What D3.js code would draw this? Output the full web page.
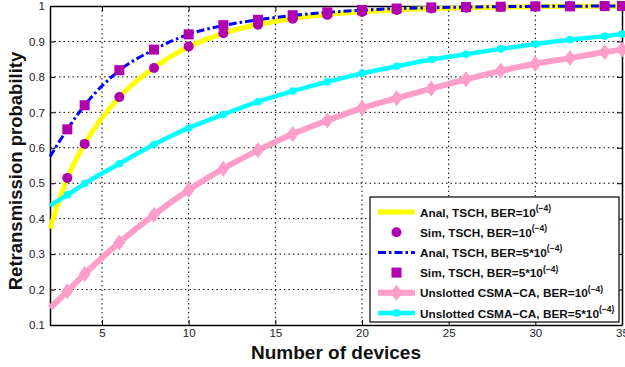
<!DOCTYPE html>
<html>
<head>
<meta charset="utf-8">
<script src="https://cdn.jsdelivr.net/npm/d3@7"></script>
<style>
  html, body { margin: 0; padding: 0; background: #fff; }
  svg { display: block; font-family: "Liberation Sans", Arial, sans-serif; }
</style>
</head>
<body>
<svg id="chart" width="625" height="367"></svg>
<script>
// Number of devices where the analytical curves are evaluated
const lineX = [2, 3, 4, 6, 8, 10, 12, 14, 16, 18, 20, 22, 24, 26, 28, 30, 32, 34, 35];
// Number of devices where simulation / marker points are shown
const markX = [3, 4, 6, 8, 10, 12, 14, 16, 18, 20, 22, 24, 26, 28, 30, 32, 34, 35];

const analTsch1 = [0.372, 0.515, 0.611, 0.743, 0.826, 0.885, 0.923, 0.948, 0.965, 0.976, 0.984, 0.989, 0.993, 0.995, 0.997, 0.998, 0.999, 0.999, 0.999];
const simTsch1 = [0.515, 0.611, 0.743, 0.825, 0.886, 0.923, 0.947, 0.964, 0.975, 0.983, 0.989, 0.993, 0.995, 0.997, 0.998, 0.999, 0.999, 0.999];
const analTsch5 = [0.575, 0.652, 0.720, 0.818, 0.877, 0.920, 0.945, 0.961, 0.973, 0.982, 0.988, 0.993, 0.995, 0.997, 0.998, 0.999, 0.999, 1.000, 1.000];
const simTsch5 = [0.652, 0.720, 0.819, 0.877, 0.920, 0.946, 0.961, 0.974, 0.982, 0.989, 0.993, 0.996, 0.997, 0.998, 0.999, 0.999, 1.000, 1.000];
const csma1 = [0.148, 0.195, 0.244, 0.333, 0.411, 0.481, 0.541, 0.593, 0.639, 0.677, 0.712, 0.740, 0.767, 0.793, 0.817, 0.837, 0.853, 0.870, 0.877];
const csma5 = [0.437, 0.467, 0.499, 0.555, 0.609, 0.656, 0.694, 0.730, 0.760, 0.786, 0.810, 0.830, 0.849, 0.864, 0.879, 0.893, 0.905, 0.915, 0.921];

const xTicks = [5, 10, 15, 20, 25, 30, 35];
const yTicks = [0.1, 0.2, 0.3, 0.4, 0.5, 0.6, 0.7, 0.8, 0.9, 1];

const legendLabels = [
  ["Anal, TSCH, BER=10", "(\u22124)"],
  ["Sim, TSCH, BER=10", "(\u22124)"],
  ["Anal, TSCH, BER=5*10", "(\u22124)"],
  ["Sim, TSCH, BER=5*10", "(\u22124)"],
  ["Unslotted CSMA\u2212CA, BER=10", "(\u22124)"],
  ["Unslotted CSMA\u2212CA, BER=5*10", "(\u22124)"]
];

const C = {
  yellow: "#ffff00",
  purple: "#b000b0",
  blue: "#0000ff",
  pink: "#ff9ec8",
  cyan: "#00ffff"
};

const L = 50, R = 622, T = 6, B = 325;
const svg = d3.select("#chart");
const x = d3.scaleLinear().domain([2, 35]).range([L, R]);
const y = d3.scaleLinear().domain([0.1, 1]).range([B, T]);

// dotted grid
const grid = svg.append("g").attr("stroke", "#000").attr("stroke-width", 1)
  .attr("stroke-dasharray", "1.5,3").attr("fill", "none");
xTicks.filter(t => t < 35).forEach(t => {
  grid.append("line").attr("x1", x(t)).attr("x2", x(t)).attr("y1", T).attr("y2", B);
});
yTicks.filter(t => t > 0.1 && t < 1).forEach(t => {
  grid.append("line").attr("x1", L).attr("x2", R).attr("y1", y(t)).attr("y2", y(t));
});

// axes with inward ticks on all sides
const fmt = d => (d === 1 ? "1" : d3.format(".1f")(d));
const axB = svg.append("g").attr("transform", `translate(0,${B})`)
  .call(d3.axisBottom(x).tickValues(xTicks).tickSize(-5).tickPadding(4).tickSizeOuter(0));
const axT = svg.append("g").attr("transform", `translate(0,${T})`)
  .call(d3.axisTop(x).tickValues(xTicks).tickSize(-5).tickFormat("").tickSizeOuter(0));
const axL = svg.append("g").attr("transform", `translate(${L},0)`)
  .call(d3.axisLeft(y).tickValues(yTicks).tickSize(-5).tickPadding(5).tickFormat(fmt).tickSizeOuter(0));
const axR = svg.append("g").attr("transform", `translate(${R},0)`)
  .call(d3.axisRight(y).tickValues(yTicks).tickSize(-5).tickFormat("").tickSizeOuter(0));
[axB, axT, axL, axR].forEach(g => {
  g.select(".domain").attr("stroke", "#000").attr("stroke-width", 1.5);
  g.selectAll(".tick line").attr("stroke", "#000").attr("stroke-width", 1);
  g.selectAll(".tick text").attr("fill", "#1a1a2a").attr("font-size", 11.5);
});

const line = d3.line().x(d => x(d[0])).y(d => y(d[1])).curve(d3.curveMonotoneX);
const zip = (xs, ys) => xs.map((v, i) => [v, ys[i]]);

const plot = svg.append("g");

function diamondPath(cx, cy, w, h) {
  return `M${cx},${cy - h / 2}L${cx + w / 2},${cy}L${cx},${cy + h / 2}L${cx - w / 2},${cy}Z`;
}

// Analytical TSCH, BER = 1e-4
plot.append("path").datum(zip(lineX, analTsch1)).attr("d", line)
  .attr("fill", "none").attr("stroke", C.yellow).attr("stroke-width", 5);
// Simulated TSCH, BER = 1e-4
plot.append("g").selectAll("circle").data(zip(markX, simTsch1)).join("circle")
  .attr("cx", d => x(d[0])).attr("cy", d => y(d[1])).attr("r", 5).attr("fill", C.purple);
// Analytical TSCH, BER = 5e-4
plot.append("path").datum(zip(lineX, analTsch5)).attr("d", line)
  .attr("fill", "none").attr("stroke", C.blue).attr("stroke-width", 3)
  .attr("stroke-dasharray", "8,3,2.5,3");
// Simulated TSCH, BER = 5e-4
plot.append("g").selectAll("rect").data(zip(markX, simTsch5)).join("rect")
  .attr("x", d => x(d[0]) - 5).attr("y", d => y(d[1]) - 5).attr("width", 10).attr("height", 10)
  .attr("fill", C.purple);
// Unslotted CSMA-CA, BER = 1e-4
plot.append("path").datum(zip(lineX, csma1)).attr("d", line)
  .attr("fill", "none").attr("stroke", C.pink).attr("stroke-width", 6);
plot.append("g").selectAll("path").data(zip(lineX, csma1).slice(1)).join("path")
  .attr("d", d => diamondPath(x(d[0]), y(d[1]), 12, 16)).attr("fill", C.pink);
// Unslotted CSMA-CA, BER = 5e-4
plot.append("path").datum(zip(lineX, csma5)).attr("d", line)
  .attr("fill", "none").attr("stroke", C.cyan).attr("stroke-width", 4.5);
plot.append("g").selectAll("circle").data(zip(lineX, csma5).slice(1)).join("circle")
  .attr("cx", d => x(d[0])).attr("cy", d => y(d[1])).attr("r", 3.8).attr("fill", C.cyan);

// legend
const lg = svg.append("g");
lg.append("rect").attr("x", 370).attr("y", 197).attr("width", 249).attr("height", 125)
  .attr("fill", "#fff").attr("stroke", "#000").attr("stroke-width", 1.2);
const rowY = i => 212 + i * 20.2;
const sx1 = 378, sx2 = 415, sxc = (sx1 + sx2) / 2;
legendLabels.forEach((lab, i) => {
  const cy = rowY(i);
  if (i === 0) lg.append("line").attr("x1", sx1).attr("x2", sx2).attr("y1", cy).attr("y2", cy)
    .attr("stroke", C.yellow).attr("stroke-width", 5);
  if (i === 1) lg.append("circle").attr("cx", sxc).attr("cy", cy).attr("r", 5).attr("fill", C.purple);
  if (i === 2) lg.append("line").attr("x1", sx1).attr("x2", sx2).attr("y1", cy).attr("y2", cy)
    .attr("stroke", C.blue).attr("stroke-width", 3).attr("stroke-dasharray", "8,3,2.5,3");
  if (i === 3) lg.append("rect").attr("x", sxc - 5).attr("y", cy - 5).attr("width", 10).attr("height", 10).attr("fill", C.purple);
  if (i === 4) {
    lg.append("line").attr("x1", sx1).attr("x2", sx2).attr("y1", cy).attr("y2", cy)
      .attr("stroke", C.pink).attr("stroke-width", 6);
    lg.append("path").attr("d", diamondPath(sxc, cy, 12, 16)).attr("fill", C.pink);
  }
  if (i === 5) {
    lg.append("line").attr("x1", sx1).attr("x2", sx2).attr("y1", cy).attr("y2", cy)
      .attr("stroke", C.cyan).attr("stroke-width", 4.5);
    lg.append("circle").attr("cx", sxc).attr("cy", cy).attr("r", 3.8).attr("fill", C.cyan);
  }
  const t = lg.append("text").attr("x", 420).attr("y", cy + 4.5)
    .attr("font-size", 11.8).attr("font-weight", "bold").attr("fill", "#111");
  t.append("tspan").text(lab[0]);
  t.append("tspan").attr("dy", -5.5).attr("font-size", 8.5).text(lab[1]);
});

// axis titles
svg.append("text").attr("x", (L + R) / 2).attr("y", 359).attr("text-anchor", "middle")
  .attr("font-size", 19).attr("font-weight", "bold").attr("fill", "#111")
  .text("Number of devices");
svg.append("text").attr("transform", `translate(22,171) rotate(-90)`)
  .attr("text-anchor", "middle").attr("font-size", 18.5).attr("font-weight", "bold").attr("fill", "#111")
  .text("Retransmission probability");
</script>
</body>
</html>
